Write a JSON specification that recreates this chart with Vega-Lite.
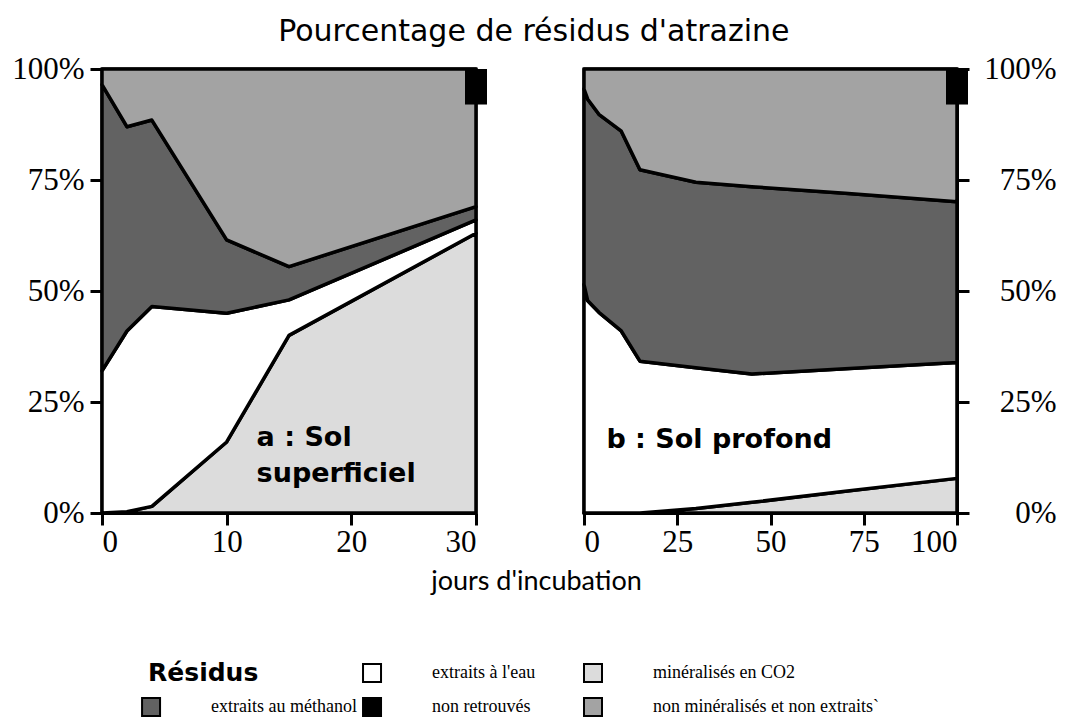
{
  "$schema": "https://vega.github.io/schema/vega-lite/v6.json",
  "background": "white",
  "padding": {"left": 10, "top": 16, "right": 8, "bottom": 0},
  "title": {"text": "Pourcentage de résidus d'atrazine", "font": "DejaVu Sans", "fontSize": 30, "fontWeight": "normal", "color": "black", "anchor": "middle", "offset": 5},
  "config": {
    "view": {"stroke": "black", "strokeWidth": 3},
    "axis": {"domainColor": "black", "domainWidth": 3, "tickColor": "black", "tickWidth": 3, "tickSize": 12, "labelFont": "Liberation Serif", "labelFontSize": 31, "labelColor": "black", "grid": false, "titleColor": "black"}
  },
  "datasets": {
    "bandes": [
      {"sol": "a", "residu": "minéralisés en CO2", "jour": 0, "bas": 0, "haut": 0},
      {"sol": "a", "residu": "minéralisés en CO2", "jour": 2, "bas": 0, "haut": 0.3},
      {"sol": "a", "residu": "minéralisés en CO2", "jour": 4, "bas": 0, "haut": 1.5},
      {"sol": "a", "residu": "minéralisés en CO2", "jour": 10, "bas": 0, "haut": 16},
      {"sol": "a", "residu": "minéralisés en CO2", "jour": 15, "bas": 0, "haut": 40},
      {"sol": "a", "residu": "minéralisés en CO2", "jour": 30, "bas": 0, "haut": 63},
      {"sol": "a", "residu": "extraits à l'eau", "jour": 0, "bas": 0, "haut": 32},
      {"sol": "a", "residu": "extraits à l'eau", "jour": 2, "bas": 0.3, "haut": 41},
      {"sol": "a", "residu": "extraits à l'eau", "jour": 4, "bas": 1.5, "haut": 46.5},
      {"sol": "a", "residu": "extraits à l'eau", "jour": 10, "bas": 16, "haut": 45},
      {"sol": "a", "residu": "extraits à l'eau", "jour": 15, "bas": 40, "haut": 48},
      {"sol": "a", "residu": "extraits à l'eau", "jour": 30, "bas": 63, "haut": 66},
      {"sol": "a", "residu": "extraits au méthanol", "jour": 0, "bas": 32, "haut": 96.5},
      {"sol": "a", "residu": "extraits au méthanol", "jour": 2, "bas": 41, "haut": 87},
      {"sol": "a", "residu": "extraits au méthanol", "jour": 4, "bas": 46.5, "haut": 88.5},
      {"sol": "a", "residu": "extraits au méthanol", "jour": 10, "bas": 45, "haut": 61.5},
      {"sol": "a", "residu": "extraits au méthanol", "jour": 15, "bas": 48, "haut": 55.5},
      {"sol": "a", "residu": "extraits au méthanol", "jour": 30, "bas": 66, "haut": 69},
      {"sol": "a", "residu": "non minéralisés et non extraits`", "jour": 0, "bas": 96.5, "haut": 100},
      {"sol": "a", "residu": "non minéralisés et non extraits`", "jour": 2, "bas": 87, "haut": 100},
      {"sol": "a", "residu": "non minéralisés et non extraits`", "jour": 4, "bas": 88.5, "haut": 100},
      {"sol": "a", "residu": "non minéralisés et non extraits`", "jour": 10, "bas": 61.5, "haut": 100},
      {"sol": "a", "residu": "non minéralisés et non extraits`", "jour": 15, "bas": 55.5, "haut": 100},
      {"sol": "a", "residu": "non minéralisés et non extraits`", "jour": 30, "bas": 69, "haut": 100},
      {"sol": "b", "residu": "minéralisés en CO2", "jour": 0, "bas": 0, "haut": 0},
      {"sol": "b", "residu": "minéralisés en CO2", "jour": 1, "bas": 0, "haut": 0},
      {"sol": "b", "residu": "minéralisés en CO2", "jour": 4, "bas": 0, "haut": 0},
      {"sol": "b", "residu": "minéralisés en CO2", "jour": 10, "bas": 0, "haut": 0},
      {"sol": "b", "residu": "minéralisés en CO2", "jour": 15, "bas": 0, "haut": 0},
      {"sol": "b", "residu": "minéralisés en CO2", "jour": 30, "bas": 0, "haut": 1},
      {"sol": "b", "residu": "minéralisés en CO2", "jour": 45, "bas": 0, "haut": 2.4},
      {"sol": "b", "residu": "minéralisés en CO2", "jour": 70, "bas": 0, "haut": 4.9},
      {"sol": "b", "residu": "minéralisés en CO2", "jour": 100, "bas": 0, "haut": 7.8},
      {"sol": "b", "residu": "extraits à l'eau", "jour": 0, "bas": 0, "haut": 51.5},
      {"sol": "b", "residu": "extraits à l'eau", "jour": 1, "bas": 0, "haut": 47.8},
      {"sol": "b", "residu": "extraits à l'eau", "jour": 4, "bas": 0, "haut": 45.2},
      {"sol": "b", "residu": "extraits à l'eau", "jour": 10, "bas": 0, "haut": 41},
      {"sol": "b", "residu": "extraits à l'eau", "jour": 15, "bas": 0, "haut": 34.2},
      {"sol": "b", "residu": "extraits à l'eau", "jour": 30, "bas": 1, "haut": 32.7},
      {"sol": "b", "residu": "extraits à l'eau", "jour": 45, "bas": 2.4, "haut": 31.3},
      {"sol": "b", "residu": "extraits à l'eau", "jour": 70, "bas": 4.9, "haut": 32.5},
      {"sol": "b", "residu": "extraits à l'eau", "jour": 100, "bas": 7.8, "haut": 33.9},
      {"sol": "b", "residu": "extraits au méthanol", "jour": 0, "bas": 51.5, "haut": 95.5},
      {"sol": "b", "residu": "extraits au méthanol", "jour": 1, "bas": 47.8, "haut": 93.2},
      {"sol": "b", "residu": "extraits au méthanol", "jour": 4, "bas": 45.2, "haut": 89.8},
      {"sol": "b", "residu": "extraits au méthanol", "jour": 10, "bas": 41, "haut": 86},
      {"sol": "b", "residu": "extraits au méthanol", "jour": 15, "bas": 34.2, "haut": 77.3},
      {"sol": "b", "residu": "extraits au méthanol", "jour": 30, "bas": 32.7, "haut": 74.5},
      {"sol": "b", "residu": "extraits au méthanol", "jour": 45, "bas": 31.3, "haut": 73.5},
      {"sol": "b", "residu": "extraits au méthanol", "jour": 70, "bas": 32.5, "haut": 72},
      {"sol": "b", "residu": "extraits au méthanol", "jour": 100, "bas": 33.9, "haut": 70.1},
      {"sol": "b", "residu": "non minéralisés et non extraits`", "jour": 0, "bas": 95.5, "haut": 100},
      {"sol": "b", "residu": "non minéralisés et non extraits`", "jour": 1, "bas": 93.2, "haut": 100},
      {"sol": "b", "residu": "non minéralisés et non extraits`", "jour": 4, "bas": 89.8, "haut": 100},
      {"sol": "b", "residu": "non minéralisés et non extraits`", "jour": 10, "bas": 86, "haut": 100},
      {"sol": "b", "residu": "non minéralisés et non extraits`", "jour": 15, "bas": 77.3, "haut": 100},
      {"sol": "b", "residu": "non minéralisés et non extraits`", "jour": 30, "bas": 74.5, "haut": 100},
      {"sol": "b", "residu": "non minéralisés et non extraits`", "jour": 45, "bas": 73.5, "haut": 100},
      {"sol": "b", "residu": "non minéralisés et non extraits`", "jour": 70, "bas": 72, "haut": 100},
      {"sol": "b", "residu": "non minéralisés et non extraits`", "jour": 100, "bas": 70.1, "haut": 100}
    ],
    "nonretrouves": [
      {"sol": "a", "residu": "non retrouvés", "jour": 30, "bas": 92, "haut": 100},
      {"sol": "b", "residu": "non retrouvés", "jour": 100, "bas": 92, "haut": 100}
    ],
    "etiquettes": [
      {"sol": "a", "texte": "a : Sol\nsuperficiel", "jour": 12.4, "pct": 17},
      {"sol": "b", "texte": "b : Sol profond", "jour": 6, "pct": 16.5}
    ],
    "legende": [
      {"residu": "extraits à l'eau", "col": 2, "ligne": 1},
      {"residu": "minéralisés en CO2", "col": 3, "ligne": 1},
      {"residu": "extraits au méthanol", "col": 1, "ligne": 2},
      {"residu": "non retrouvés", "col": 2, "ligne": 2},
      {"residu": "non minéralisés et non extraits`", "col": 3, "ligne": 2}
    ],
    "titre_legende": [
      {"texte": "Résidus", "col": 1, "ligne": 1}
    ]
  },
  "vconcat": [
    {
      "bounds": "flush",
      "spacing": 108,
      "hconcat": [
        {
          "width": 374,
          "height": 444,
          "layer": [
            {
              "data": {"name": "bandes"},
              "transform": [{"filter": "datum.sol == 'a'"}],
              "mark": {"type": "area", "stroke": "black", "strokeWidth": 3.5, "strokeJoin": "round"},
              "encoding": {
                "x": {"field": "jour", "type": "quantitative", "scale": {"domain": [0, 30], "nice": false, "padding": 0},
                      "axis": {"values": [0, 10, 20, 30], "labelPadding": 2, "title": "jours d'incubation", "titleFont": "Lato", "titleFontSize": 27, "titleFontWeight": "normal", "titleX": 434, "titleY": 68, "titleBaseline": "middle", "titleAlign": "center"}},
                "y": {"field": "bas", "type": "quantitative", "stack": null, "scale": {"domain": [0, 100], "nice": false, "padding": 0},
                      "axis": {"values": [0, 25, 50, 75, 100], "labelExpr": "datum.value + '%'", "labelPadding": 6, "title": null}},
                "y2": {"field": "haut"},
                "fill": {"field": "residu", "type": "nominal", "legend": null,
                         "scale": {"domain": ["minéralisés en CO2", "extraits à l'eau", "extraits au méthanol", "non minéralisés et non extraits`", "non retrouvés"], "range": ["#dcdcdc", "#ffffff", "#626262", "#a3a3a3", "#000000"]}}
              }
            },
            {
              "data": {"name": "nonretrouves"},
              "transform": [{"filter": "datum.sol == 'a'"}],
              "mark": {"type": "bar", "size": 22},
              "encoding": {
                "x": {"field": "jour", "type": "quantitative"},
                "y": {"field": "bas", "type": "quantitative"},
                "y2": {"field": "haut"},
                "fill": {"field": "residu", "type": "nominal", "legend": null}
              }
            },
            {
              "data": {"name": "etiquettes"},
              "transform": [{"filter": "datum.sol == 'a'"}],
              "mark": {"type": "text", "align": "left", "baseline": "middle", "lineBreak": "\n", "lineHeight": 36, "font": "DejaVu Sans", "fontWeight": "bold", "fontSize": 27, "color": "black"},
              "encoding": {
                "x": {"field": "jour", "type": "quantitative"},
                "y": {"field": "pct", "type": "quantitative"},
                "text": {"field": "texte"}
              }
            }
          ]
        },
        {
          "width": 373,
          "height": 444,
          "layer": [
            {
              "data": {"name": "bandes"},
              "transform": [{"filter": "datum.sol == 'b'"}],
              "mark": {"type": "area", "stroke": "black", "strokeWidth": 3.5, "strokeJoin": "round"},
              "encoding": {
                "x": {"field": "jour", "type": "quantitative", "scale": {"domain": [0, 100], "nice": false, "padding": 0},
                      "axis": {"values": [0, 25, 50, 75, 100], "labelPadding": 2, "title": null}},
                "y": {"field": "bas", "type": "quantitative", "stack": null, "scale": {"domain": [0, 100], "nice": false, "padding": 0},
                      "axis": {"orient": "right", "values": [0, 25, 50, 75, 100], "labelExpr": "datum.value + '%'", "labelAlign": "right", "labelPadding": 87, "title": null}},
                "y2": {"field": "haut"},
                "fill": {"field": "residu", "type": "nominal", "legend": null}
              }
            },
            {
              "data": {"name": "nonretrouves"},
              "transform": [{"filter": "datum.sol == 'b'"}],
              "mark": {"type": "bar", "size": 22},
              "encoding": {
                "x": {"field": "jour", "type": "quantitative"},
                "y": {"field": "bas", "type": "quantitative"},
                "y2": {"field": "haut"},
                "fill": {"field": "residu", "type": "nominal", "legend": null}
              }
            },
            {
              "data": {"name": "etiquettes"},
              "transform": [{"filter": "datum.sol == 'b'"}],
              "mark": {"type": "text", "align": "left", "baseline": "middle", "font": "DejaVu Sans", "fontWeight": "bold", "fontSize": 27, "color": "black"},
              "encoding": {
                "x": {"field": "jour", "type": "quantitative"},
                "y": {"field": "pct", "type": "quantitative"},
                "text": {"field": "texte"}
              }
            }
          ]
        }
      ]
    },
    {
      "width": 491,
      "height": 34,
      "view": {"stroke": null},
      "layer": [
        {
          "data": {"name": "legende"},
          "mark": {"type": "square", "size": 324, "filled": true, "stroke": "black", "strokeWidth": 2, "opacity": 1},
          "encoding": {
            "x": {"field": "col", "type": "quantitative", "scale": {"domain": [0.778, 3], "nice": false, "zero": false}, "axis": null},
            "y": {"field": "ligne", "type": "quantitative", "scale": {"domain": [1, 2], "nice": false, "zero": false, "reverse": true}, "axis": null},
            "fill": {"field": "residu", "type": "nominal", "legend": null}
          }
        },
        {
          "data": {"name": "legende"},
          "mark": {"type": "text", "align": "left", "baseline": "middle", "dx": 60, "font": "Liberation Serif", "fontSize": 18, "color": "black"},
          "encoding": {
            "x": {"field": "col", "type": "quantitative"},
            "y": {"field": "ligne", "type": "quantitative"},
            "text": {"field": "residu"}
          }
        },
        {
          "data": {"name": "titre_legende"},
          "mark": {"type": "text", "align": "left", "baseline": "middle", "dx": -3, "font": "DejaVu Sans", "fontWeight": "bold", "fontSize": 25, "color": "black"},
          "encoding": {
            "x": {"field": "col", "type": "quantitative"},
            "y": {"field": "ligne", "type": "quantitative"},
            "text": {"field": "texte"}
          }
        }
      ]
    }
  ],
  "spacing": 64
}
